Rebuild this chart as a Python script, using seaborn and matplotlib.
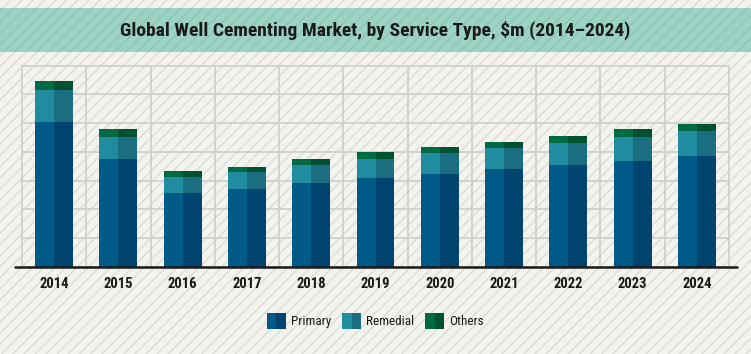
import numpy as np
import pandas as pd
import matplotlib
matplotlib.use("Agg")
import matplotlib.pyplot as plt
import seaborn as sns
from matplotlib.patches import Rectangle, Patch
from matplotlib.legend_handler import HandlerTuple

# ---- data ($m) ----
years = ["2014", "2015", "2016", "2017", "2018", "2019", "2020", "2021", "2022", "2023", "2024"]
primary = [5050, 3750, 2570, 2700, 2920, 3090, 3230, 3390, 3540, 3700, 3850]
remedial = [1100, 775, 555, 590, 635, 660, 715, 735, 785, 805, 890]
others = [300, 265, 195, 185, 185, 230, 230, 230, 240, 275, 245]
series_names = ["Primary", "Remedial", "Others"]
title = "Global Well Cementing Market, by Service Type, $m (2014\u20132024)"

light_cols = ["#005a87", "#1f8ca0", "#006a45"]
dark_cols = ["#004570", "#1b6d80", "#005132"]

sns.set_theme(style="white")
plt.rcParams["font.family"] = ["Roboto Condensed", "Liberation Sans Narrow", "Lato", "DejaVu Sans"]
plt.rcParams["hatch.linewidth"] = 1.0

fig = plt.figure(figsize=(7.51, 3.54), dpi=100)
fig.patch.set_facecolor("#f3f3ef")

# hatched page background
fig.add_artist(Rectangle((0, 0), 1, 1, transform=fig.transFigure, facecolor="#f3f3ef",
                         edgecolor="#dcdcd4", hatch="///", linewidth=0, zorder=-10))
# title banner
fig.add_artist(Rectangle((0, 0.853), 1, 0.123, transform=fig.transFigure, facecolor="#9dd3c4",
                         edgecolor="#8cc6b6", hatch="///", linewidth=0, zorder=-5))
fig.text(0.5, 0.913, title, ha="center", va="center", fontsize=14, fontweight="bold",
         color="#1a1a1a")

ax = fig.add_axes([0.0293, 0.2458, 0.9414, 0.569])
ax.patch.set_alpha(0)

df = pd.DataFrame({"year": years, "Primary": primary, "Remedial": remedial, "Others": others})
bottoms = [np.zeros(len(years)), np.array(primary), np.array(primary) + np.array(remedial)]

bw = 0.59
for name, bot, lc, dc in zip(series_names, bottoms, light_cols, dark_cols):
    sns.barplot(data=df, x="year", y=name, bottom=bot, color=lc, saturation=1, width=bw,
                errorbar=None, linewidth=0, ax=ax, zorder=3)
    n0 = len(ax.patches)
    sns.barplot(data=df, x="year", y=name, bottom=bot, color=dc, saturation=1, width=bw,
                errorbar=None, linewidth=0, ax=ax, zorder=3)
    for p in ax.patches[n0:]:
        w = p.get_width()
        p.set_x(p.get_x() + w / 2)
        p.set_width(w / 2)

ax.set_xlim(-0.5, len(years) - 0.5)
ax.set_ylim(0, 7000)
ax.set_yticks(np.arange(0, 7001, 1000))
ax.set_yticklabels([])
ax.set_xticks(np.arange(-0.5, len(years), 1), minor=True)
ax.set_axisbelow(True)
ax.grid(axis="y", which="major", color="#d0d0cc", linewidth=1.3)
ax.grid(axis="x", which="minor", color="#d0d0cc", linewidth=1.3)
ax.grid(axis="x", which="major", visible=False)
for t in ax.yaxis.get_major_ticks() + ax.xaxis.get_minor_ticks():
    t.gridline.set_clip_on(False)
for s in ax.spines.values():
    s.set_visible(False)
ax.set_xlabel("")
ax.set_ylabel("")
ax.tick_params(axis="both", which="both", length=0)
ax.tick_params(axis="x", pad=7, labelsize=10.5, labelcolor="#1a1a1a")
for t in ax.get_xticklabels():
    t.set_fontweight("bold")

ax.axhline(0, xmin=-7 / 707, xmax=1 + 8 / 707, color="#1a1a1a", linewidth=1.8,
           clip_on=False, zorder=5)

handles = [(Patch(facecolor=lc, linewidth=0), Patch(facecolor=dc, linewidth=0))
           for lc, dc in zip(light_cols, dark_cols)]
fig.legend(handles, series_names, loc="center", bbox_to_anchor=(0.5, 0.093), ncol=3,
           frameon=False, fontsize=9.5, handlelength=1.45, handleheight=1.45,
           handletextpad=0.4, columnspacing=0.8, labelcolor="#1a1a1a",
           handler_map={tuple: HandlerTuple(ndivide=2, pad=0)})

fig.savefig("out.png", dpi=100, facecolor=fig.get_facecolor())
